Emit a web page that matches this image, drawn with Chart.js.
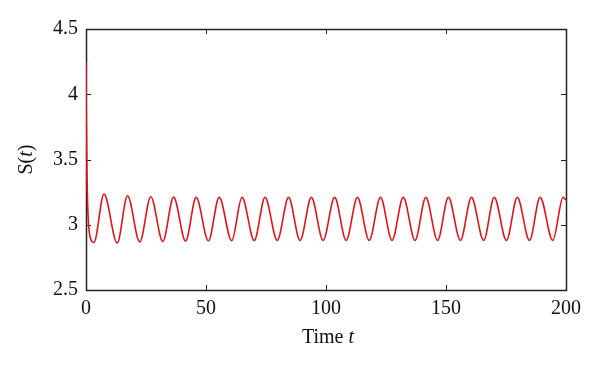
<!DOCTYPE html>
<html>
<head>
<meta charset="utf-8">
<script src="https://cdn.jsdelivr.net/npm/chart.js@4.4.0/dist/chart.umd.min.js"></script>
<style>
  html, body { margin: 0; padding: 0; background: #fff; }
  #wrap { width: 600px; height: 372px; }
</style>
</head>
<body>
<div id="wrap"><canvas id="sPlot" width="600" height="372"></canvas></div>
<script>
// S(t): start, initial drop, then peaks / troughs
const times = [0, 0.15, 0.4, 0.8, 1.4, 2.2, 3.3,
    7.5, 13.0, 17.3, 22.4, 27.0, 32.0, 36.5, 41.5, 45.9, 51.0, 55.5, 60.7, 65.0, 70.1,
    74.6, 79.7, 84.4, 89.2, 93.9, 98.8, 103.6, 108.4, 113.1, 118.0, 122.7, 127.5, 132.2, 137.1,
    141.6, 146.5, 151.0, 156.0, 160.6, 165.7, 170.1, 175.2, 179.7, 184.8, 189.2, 194.5, 198.8, 200];
const sValues = [4.25, 3.8, 3.4, 3.1, 2.94, 2.88, 2.864,
    3.235, 2.86, 3.222, 2.868, 3.215, 2.872, 3.212, 2.875, 3.21, 2.877, 3.21, 2.878, 3.21, 2.879,
    3.21, 2.88, 3.21, 2.88, 3.21, 2.88, 3.21, 2.88, 3.21, 2.88, 3.21, 2.88, 3.21, 2.88,
    3.21, 2.88, 3.21, 2.88, 3.21, 2.88, 3.21, 2.88, 3.21, 2.88, 3.21, 2.88, 3.21, 3.19];
const xTicks = [0, 50, 100, 150, 200];
const yTicks = [2.5, 3, 3.5, 4, 4.5];

const serif = '"Liberation Serif", "Times New Roman", serif';
const axisColor = '#222';
const fontSize = 20;

// box and inward ticks on all four sides (under the curve)
const frame = {
    id: 'frame',
    beforeDatasetsDraw(chart) {
        const { ctx, chartArea: a, scales } = chart;
        const tl = 5;
        ctx.save();
        ctx.strokeStyle = axisColor;
        ctx.lineWidth = 1;
        ctx.beginPath();
        xTicks.forEach(v => {
            const x = Math.round(scales.x.getPixelForValue(v)) + 0.5;
            ctx.moveTo(x, a.bottom); ctx.lineTo(x, a.bottom - tl);
            ctx.moveTo(x, a.top); ctx.lineTo(x, a.top + tl);
        });
        yTicks.forEach(v => {
            const y = Math.round(scales.y.getPixelForValue(v)) + 0.5;
            ctx.moveTo(a.left, y); ctx.lineTo(a.left + tl, y);
            ctx.moveTo(a.right, y); ctx.lineTo(a.right - tl, y);
        });
        ctx.stroke();
        ctx.lineWidth = 1.5;
        ctx.strokeRect(Math.round(a.left) + 0.5, Math.round(a.top) + 0.5,
            Math.round(a.right - a.left), Math.round(a.bottom - a.top));
        ctx.restore();
    },
    // axis titles with italic t
    afterDraw(chart) {
        const { ctx, chartArea: a } = chart;
        ctx.save();
        ctx.fillStyle = '#111';
        ctx.textBaseline = 'middle';
        const parts = (pieces, cx, cy) => {
            let w = 0;
            pieces.forEach(p => { ctx.font = p[1] + ' ' + fontSize + 'px ' + serif; w += ctx.measureText(p[0]).width; });
            let x = cx - w / 2;
            ctx.textAlign = 'left';
            pieces.forEach(p => {
                ctx.font = p[1] + ' ' + fontSize + 'px ' + serif;
                ctx.fillText(p[0], x, cy);
                x += ctx.measureText(p[0]).width;
            });
        };
        parts([['Time ', 'normal'], ['t', 'italic']], (a.left + a.right) / 2 + 2, 338);
        ctx.translate(27, (a.top + a.bottom) / 2);
        ctx.rotate(-Math.PI / 2);
        parts([['S(', 'normal'], ['t', 'italic'], [')', 'normal']], 0, 0);
        ctx.restore();
    }
};

new Chart(document.getElementById('sPlot').getContext('2d'), {
    type: 'line',
    data: {
        datasets: [{
            data: times.map((t, i) => ({ x: t, y: sValues[i] })),
            borderColor: '#e0141b',
            borderWidth: 1.6,
            pointRadius: 0,
            cubicInterpolationMode: 'monotone',
            fill: false
        }]
    },
    options: {
        responsive: false,
        animation: false,
        layout: { padding: { left: 0, right: 34, top: 29, bottom: 0 } },
        plugins: { legend: { display: false }, tooltip: { enabled: false } },
        scales: {
            x: {
                type: 'linear',
                min: 0, max: 200,
                afterBuildTicks: s => { s.ticks = xTicks.map(v => ({ value: v })); },
                afterFit: s => { s.height = 82; },
                grid: { display: false, drawTicks: false },
                border: { display: false },
                ticks: { color: '#111', padding: 7, font: { family: serif, size: fontSize }, callback: v => String(v) }
            },
            y: {
                min: 2.5, max: 4.5,
                afterBuildTicks: s => { s.ticks = yTicks.map(v => ({ value: v })); },
                afterFit: s => { s.width = 86; },
                grid: { display: false, drawTicks: false },
                border: { display: false },
                ticks: { color: '#111', padding: 8, font: { family: serif, size: fontSize }, callback: v => String(v) }
            }
        }
    },
    plugins: [frame]
});
</script>
</body>
</html>
